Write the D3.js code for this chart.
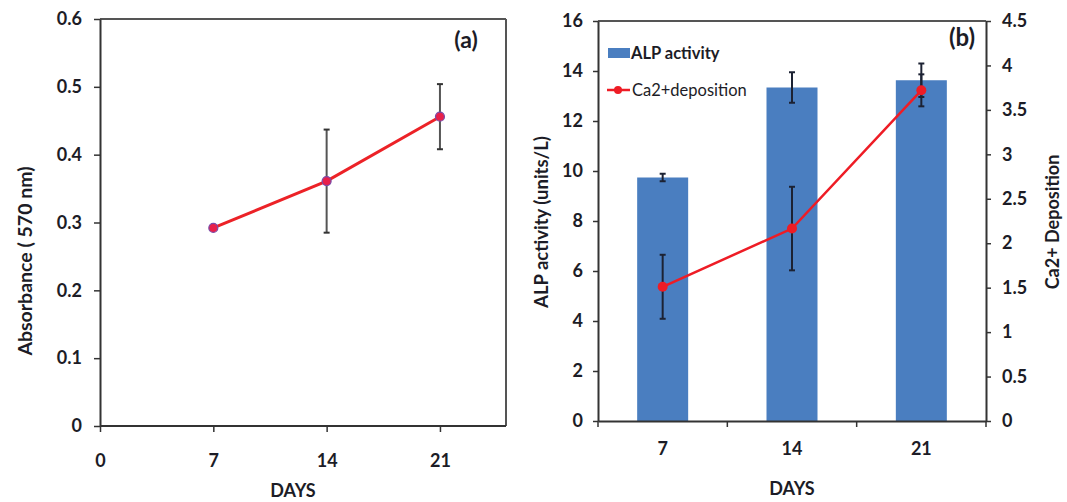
<!DOCTYPE html>
<html><head><meta charset="utf-8">
<script src="https://cdn.jsdelivr.net/npm/d3@7"></script>
<style>body{margin:0;background:#fff}svg{display:block}text{font-family:Lato,"Open Sans",sans-serif;fill:#1c1c26}</style>
</head><body><svg id="c" width="1067" height="502"></svg>
<script>
// Panel (a)
const daysA = [7, 14, 21];
const absorbance = [0.292, 0.361, 0.456];
const absorbanceErr = [0, 0.076, 0.048];
const xTicksA = [0, 7, 14, 21];
const yTicksA = [0, 0.1, 0.2, 0.3, 0.4, 0.5, 0.6];
// Panel (b)
const daysB = ["7", "14", "21"];
const alp = [9.74, 13.34, 13.63];
const alpErr = [0.15, 0.61, 0.67];
const ca = [1.51, 2.165, 3.72];
const caErr = [0.36, 0.47, 0.18];
const yTicksB = [0, 2, 4, 6, 8, 10, 12, 14, 16];
const yTicksB2 = [0, 0.5, 1, 1.5, 2, 2.5, 3, 3.5, 4, 4.5];

const svg = d3.select("#c");
const axisColor = "#333";

function styleAxis(g, size) {
  g.selectAll("path.domain").attr("stroke", axisColor).attr("stroke-width", 2);
  g.selectAll(".tick line").attr("stroke", axisColor).attr("stroke-width", 1.5);
  g.selectAll(".tick text").style("font-size", size + "px").style("font-weight", 700).attr("fill", "#1c1c26");
}

// ---------- Panel A ----------
const A = {l: 100, r: 506, t: 19, b: 426};
const xA = d3.scaleLinear().domain([0, 25]).range([A.l, A.l + (A.r - A.l) * 25 / 25.08]);
const yA = d3.scaleLinear().domain([0, 0.6]).range([A.b, A.t]);

svg.append("line").attr("x1", A.l).attr("x2", A.r).attr("y1", A.t).attr("y2", A.t).attr("stroke", "#555").attr("stroke-width", 2);
svg.append("line").attr("x1", A.r).attr("x2", A.r).attr("y1", A.t).attr("y2", A.b).attr("stroke", "#555").attr("stroke-width", 2);

const gyA = svg.append("g").attr("transform", `translate(${A.l},0)`)
  .call(d3.axisLeft(yA).tickValues(yTicksA).tickFormat(d3.format("")).tickSize(6).tickSizeOuter(0).tickPadding(12));
styleAxis(gyA, 18);
const gxA = svg.append("g").attr("transform", `translate(0,${A.b})`)
  .call(d3.axisBottom(xA).tickValues(xTicksA).tickSize(6).tickSizeOuter(0).tickPadding(22));
styleAxis(gxA, 18);
gxA.select("path.domain").attr("d", `M${A.l},0H${A.r}`);

svg.append("text").attr("transform", `translate(32,${261}) rotate(-90)`).attr("text-anchor", "middle")
  .style("font-size", "19.5px").style("font-weight", 700).text("Absorbance ( 570 nm)");
svg.append("text").attr("x", 293).attr("y", 497).attr("text-anchor", "middle").style("font-size", "18px").style("font-weight", 700).text("DAYS");
svg.append("text").attr("x", 466).attr("y", 48).attr("text-anchor", "middle").style("font-size", "23px").style("font-weight", 700).text("(a)");

const ptsA = daysA.map((d, i) => ({x: d, y: absorbance[i], e: absorbanceErr[i]}));
const errA = svg.append("g");
ptsA.filter(p => p.e > 0).forEach(p => {
  const x = xA(p.x), y1 = yA(p.y + p.e), y2 = yA(p.y - p.e);
  errA.append("line").attr("x1", x).attr("x2", x).attr("y1", y1).attr("y2", y2).attr("stroke", "#555").attr("stroke-width", 2);
  [y1, y2].forEach(y => errA.append("line").attr("x1", x - 3).attr("x2", x + 3).attr("y1", y).attr("y2", y).attr("stroke", "#333").attr("stroke-width", 2));
});
svg.append("path").datum(ptsA).attr("fill", "none").attr("stroke", "#ec2227").attr("stroke-width", 3)
  .attr("d", d3.line().x(p => xA(p.x)).y(p => yA(p.y)));
svg.append("g").selectAll("circle").data(ptsA).join("circle")
  .attr("cx", p => xA(p.x)).attr("cy", p => yA(p.y)).attr("r", 4.5)
  .attr("fill", "#e8204a").attr("stroke", "#7a4aa8").attr("stroke-width", 1.2);

// ---------- Panel B ----------
const B = {l: 598, r: 986, t: 21, b: 421};
const xB = d3.scaleBand().domain(daysB).range([B.l, B.r]);
const yB = d3.scaleLinear().domain([0, 16]).range([B.b, B.t]);
const yB2 = d3.scaleLinear().domain([0, 4.5]).range([B.b, B.t]);
const barW = 51;

svg.append("line").attr("x1", B.l).attr("x2", B.r).attr("y1", B.t).attr("y2", B.t).attr("stroke", "#555").attr("stroke-width", 2);

svg.append("g").selectAll("rect").data(daysB).join("rect")
  .attr("x", d => xB(d) + xB.bandwidth() / 2 - barW / 2).attr("width", barW)
  .attr("y", (d, i) => yB(alp[i])).attr("height", (d, i) => yB(0) - yB(alp[i]))
  .attr("fill", "#4a7ec0");

const gyB = svg.append("g").attr("transform", `translate(${B.l},0)`)
  .call(d3.axisLeft(yB).tickValues(yTicksB).tickSize(5).tickSizeOuter(0).tickPadding(10));
styleAxis(gyB, 18);
const gyB2 = svg.append("g").attr("transform", `translate(${B.r},0)`)
  .call(d3.axisRight(yB2).tickValues(yTicksB2).tickFormat(d3.format("")).tickSize(5).tickSizeOuter(0).tickPadding(11));
styleAxis(gyB2, 18);
const gxB = svg.append("g").attr("transform", `translate(0,${B.b})`)
  .call(d3.axisBottom(xB).tickSize(0).tickSizeOuter(0).tickPadding(21));
styleAxis(gxB, 18);
// category boundary ticks
gxB.selectAll("line.bound").data(xB.domain().map(d => xB(d)).concat([B.r])).join("line").attr("class", "bound")
  .attr("x1", d => d).attr("x2", d => d).attr("y1", 0).attr("y2", 6)
  .attr("stroke", axisColor).attr("stroke-width", 1.5);

svg.append("text").attr("transform", `translate(548,${222}) rotate(-90)`).attr("text-anchor", "middle")
  .style("font-size", "18.5px").style("font-weight", 700).text("ALP activity (units/L)");
svg.append("text").attr("transform", `translate(1059,${222}) rotate(-90)`).attr("text-anchor", "middle")
  .style("font-size", "18px").style("font-weight", 700).text("Ca2+ Deposition");
svg.append("text").attr("x", 792).attr("y", 495).attr("text-anchor", "middle").style("font-size", "18px").style("font-weight", 700).text("DAYS");
svg.append("text").attr("x", 962).attr("y", 46).attr("text-anchor", "middle").style("font-size", "24px").style("font-weight", 700).text("(b)");

// error bars
const cx = d => xB(d) + xB.bandwidth() / 2;
const errB = svg.append("g");
function errBar(x, y1, y2) {
  errB.append("line").attr("x1", x).attr("x2", x).attr("y1", y1).attr("y2", y2).attr("stroke", "#1c2233").attr("stroke-width", 2);
  [y1, y2].forEach(y => errB.append("line").attr("x1", x - 3).attr("x2", x + 3).attr("y1", y).attr("y2", y).attr("stroke", "#1c2233").attr("stroke-width", 2));
}
daysB.forEach((d, i) => errBar(cx(d), yB(alp[i] + alpErr[i]), yB(alp[i] - alpErr[i])));
daysB.forEach((d, i) => errBar(cx(d), yB2(ca[i] + caErr[i]), yB2(ca[i] - caErr[i])));

svg.append("path").datum(daysB).attr("fill", "none").attr("stroke", "#ee1c25").attr("stroke-width", 2.5)
  .attr("d", d3.line().x(d => cx(d)).y((d, i) => yB2(ca[i])));
svg.append("g").selectAll("circle").data(daysB).join("circle")
  .attr("cx", d => cx(d)).attr("cy", (d, i) => yB2(ca[i])).attr("r", 5).attr("fill", "#ee1c25");

// Legend
const lg = svg.append("g");
lg.append("rect").attr("x", 608).attr("y", 48).attr("width", 22).attr("height", 10).attr("fill", "#4a7ec0");
lg.append("text").attr("x", 631).attr("y", 59).style("font-size", "16.5px").style("font-weight", 700).text("ALP activity");
lg.append("line").attr("x1", 607).attr("x2", 630).attr("y1", 90).attr("y2", 90).attr("stroke", "#ee1c25").attr("stroke-width", 2.5);
lg.append("circle").attr("cx", 618).attr("cy", 90).attr("r", 4).attr("fill", "#ee1c25");
lg.append("text").attr("x", 632).attr("y", 96).style("font-size", "16.5px").text("Ca2+deposition");
</script></body></html>
